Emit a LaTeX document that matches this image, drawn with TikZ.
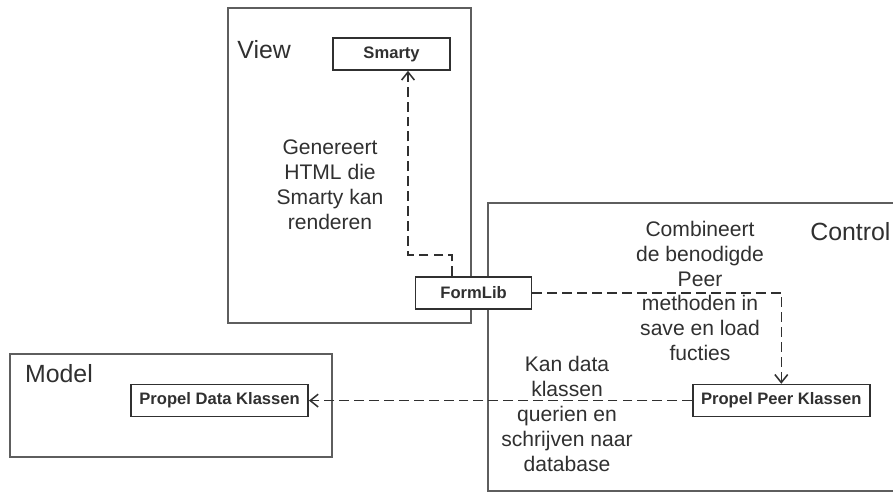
\documentclass[tikz,border=0pt]{standalone}
\usepackage{fontspec}
\setmainfont{Liberation Sans}
\usetikzlibrary{arrows.meta,positioning,calc}
\definecolor{frameline}{HTML}{5E5E5E}
\definecolor{inkgray}{HTML}{303030}

\begin{document}
\begin{tikzpicture}[
    every node/.style={align=center, text=inkgray},
    layer/.style={draw=frameline, line width=1.4pt},
    layertitle/.style={anchor=west, inner sep=0pt,
      font=\fontsize{17.7}{21}\selectfont},
    component/.style={
      rectangle, draw=inkgray, line width=1.2pt, fill=white,
      minimum height=0.8cm, inner sep=2pt,
      font=\fontsize{11.8}{14}\selectfont\bfseries
    },
    note/.style={font=\fontsize{15}{17.7}\selectfont},
    uses/.style={-{Straight Barb[length=0.2cm, width=0.32cm]},
      draw=inkgray, line width=1.1pt, dash pattern=on 7pt off 3.6pt},
  ]
  \useasboundingbox (0,0) rectangle (22.325,12.325);
  \clip (0,0) rectangle (22.325,12.325);

  % --- Layers ---
  \draw[layer] (5.7,4.25) rectangle (11.775,12.125);
  \draw[layer] (12.2,0.04) rectangle (23,7.25);
  \draw[layer] (0.25,0.9) rectangle (8.3,3.475);

  \node[layertitle] (viewtitle) at (5.93,11.075) {View};
  \node[layertitle] (controltitle) at (20.25,6.525) {Control};
  \node[layertitle] (modeltitle) at (0.62,2.975) {Model};

  % --- Components ---
  \node[component, minimum width=2.925cm] (smarty) at (9.79,10.975) {Smarty};
  \node[component, minimum width=2.9cm] (formlib) at (11.84,5.0) {FormLib};
  \node[component, minimum width=4.425cm] (data) at (5.49,2.31)
    {Propel Data Klassen};
  \node[component, minimum width=4.425cm, right=9.575cm of data] (peer)
    {Propel Peer Klassen};

  % --- Notes ---
  \node[note] (genlabel) at (8.25,7.7)
    {Genereert\\HTML die\\Smarty kan\\renderen};
  \node[note] (peerlabel) at (17.5,5.05)
    {Combineert\\de benodigde\\Peer\\methoden in\\save en load\\fucties};
  \node[note] (datalabel) at (14.175,1.975)
    {Kan data\\klassen\\querien en\\schrijven naar\\database};

  % --- Arrows ---
  \coordinate (viewBend) at (10.2,5.95);
  \draw[uses] ([xshift=-0.54cm]formlib.north) |- (viewBend)
    -- (viewBend |- smarty.south);
  \draw[uses] (formlib.east) -| (peer.north);
  \draw[uses] (peer.west) -- (data.east);
\end{tikzpicture}
\end{document}
